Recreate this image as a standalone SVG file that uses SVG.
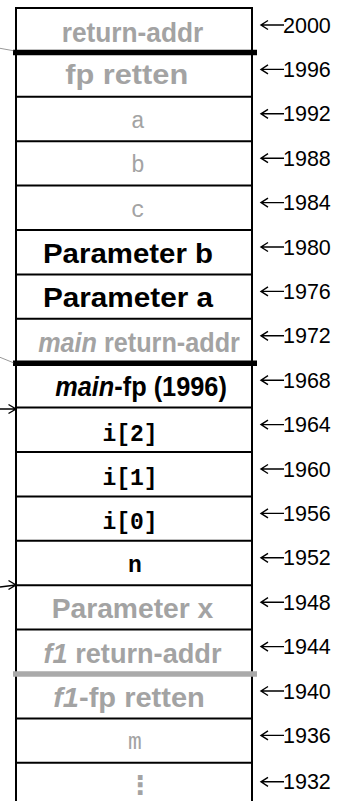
<svg xmlns="http://www.w3.org/2000/svg" width="341" height="801" viewBox="0 0 341 801">
  <style>
    .lbl { font-family: "Liberation Sans", Arial, sans-serif; font-weight: bold; font-size: 28px; text-anchor: middle; fill: #000; }
    .mono { font-family: "Liberation Mono", "Courier New", monospace; font-size: 23px; text-anchor: middle; fill: #000; }
    .bold { font-weight: bold; }
    .dim { fill: #a3a3a3; }
    .it { font-style: italic; }
    .addr { font-family: "Liberation Sans", Arial, sans-serif; font-size: 21.5px; fill: #000; }
    .rule { stroke: #000; stroke-width: 2; }
    .frame-bar { stroke: #000; stroke-width: 5.5; }
    .frame-bar-dim { stroke: #aaa; stroke-width: 5.5; }
    .ptr { fill: none; stroke: #000; stroke-width: 1.4; }
    .lead { fill: none; stroke: #999; stroke-width: 1; }
  </style>
  <defs>
    <!-- small "left arrow" used in front of every address -->
    <g id="addr-arrow">
      <path class="ptr" d="M261,17 H284 M268,12.5 L261,17 L268,21.5"/>
    </g>
  </defs>

  <rect width="341" height="801" fill="#fff"/>

  <!-- stack frame: outer lines -->
  <g id="frame">
    <line class="rule" x1="16" y1="8" x2="16" y2="801"/>
    <line class="rule" x1="252" y1="8" x2="252" y2="801"/>
    <line class="rule" x1="15" y1="8" x2="253" y2="8"/>
    <line class="rule" x1="16" y1="96.8" x2="252" y2="96.8"/>
    <line class="rule" x1="16" y1="141.2" x2="252" y2="141.2"/>
    <line class="rule" x1="16" y1="185.6" x2="252" y2="185.6"/>
    <line class="rule" x1="16" y1="230" x2="252" y2="230"/>
    <line class="rule" x1="16" y1="274.4" x2="252" y2="274.4"/>
    <line class="rule" x1="16" y1="318.8" x2="252" y2="318.8"/>
    <line class="rule" x1="16" y1="407.6" x2="252" y2="407.6"/>
    <line class="rule" x1="16" y1="452" x2="252" y2="452"/>
    <line class="rule" x1="16" y1="496.4" x2="252" y2="496.4"/>
    <line class="rule" x1="16" y1="540.8" x2="252" y2="540.8"/>
    <line class="rule" x1="16" y1="585.2" x2="252" y2="585.2"/>
    <line class="rule" x1="16" y1="629.6" x2="252" y2="629.6"/>
    <line class="rule" x1="16" y1="718.4" x2="252" y2="718.4"/>
    <line class="rule" x1="16" y1="762.8" x2="252" y2="762.8"/>
    <!-- frame boundaries -->
    <line class="frame-bar" x1="13" y1="52.4" x2="257" y2="52.4"/>
    <line class="frame-bar" x1="13" y1="363.2" x2="257" y2="363.2"/>
    <line class="frame-bar-dim" x1="13" y1="674" x2="257" y2="674"/>
  </g>

  <!-- stack cells -->
  <g id="cell-2000" transform="translate(0,8)"><text class="lbl dim" x="132.5" y="33.5" textLength="141.6" lengthAdjust="spacingAndGlyphs">return-addr</text></g>
  <g id="cell-1996" transform="translate(0,52.4)"><text class="lbl dim" x="126.7" y="31.5" textLength="123" lengthAdjust="spacingAndGlyphs">fp retten</text></g>
  <g id="cell-1992" transform="translate(0,96.8)"><text class="mono dim" x="138" y="31">a</text></g>
  <g id="cell-1988" transform="translate(0,141.2)"><text class="mono dim" x="138" y="31">b</text></g>
  <g id="cell-1984" transform="translate(0,185.6)"><text class="mono dim" x="138" y="31">c</text></g>
  <g id="cell-1980" transform="translate(0,230)"><text class="lbl" x="128" y="32.5" textLength="170" lengthAdjust="spacingAndGlyphs">Parameter b</text></g>
  <g id="cell-1976" transform="translate(0,274.4)"><text class="lbl" x="128" y="33" textLength="170" lengthAdjust="spacingAndGlyphs">Parameter a</text></g>
  <g id="cell-1972" transform="translate(0,318.8)"><text class="lbl dim" x="139" y="33" textLength="201.7" lengthAdjust="spacingAndGlyphs"><tspan class="it">main</tspan> return-addr</text></g>
  <g id="cell-1968" transform="translate(0,363.2)"><text class="lbl" x="141" y="33" textLength="171.7" lengthAdjust="spacingAndGlyphs"><tspan class="it">main</tspan>-fp (1996)</text></g>
  <g id="cell-1964" transform="translate(0,407.6)"><text class="mono bold" x="130" y="33">i[2]</text></g>
  <g id="cell-1960" transform="translate(0,452)"><text class="mono bold" x="130" y="33">i[1]</text></g>
  <g id="cell-1956" transform="translate(0,496.4)"><text class="mono bold" x="130" y="33">i[0]</text></g>
  <g id="cell-1952" transform="translate(0,540.8)"><text class="mono bold" x="135" y="31">n</text></g>
  <g id="cell-1948" transform="translate(0,585.2)"><text class="lbl dim" x="132.5" y="33" textLength="161.7" lengthAdjust="spacingAndGlyphs">Parameter x</text></g>
  <g id="cell-1944" transform="translate(0,629.6)"><text class="lbl dim" x="132.5" y="33" textLength="178" lengthAdjust="spacingAndGlyphs"><tspan class="it">f1</tspan> return-addr</text></g>
  <g id="cell-1940" transform="translate(0,674)"><text class="lbl dim" x="129" y="33" textLength="151.7" lengthAdjust="spacingAndGlyphs"><tspan class="it">f1</tspan>-fp retten</text></g>
  <g id="cell-1936" transform="translate(0,718.4)"><text class="mono dim" x="135" y="31">m</text></g>
  <g id="cell-1932" transform="translate(0,762.8)"><text class="lbl dim" style="font-family:'DejaVu Sans',sans-serif;font-size:26px" x="140" y="31">⋮</text></g>

  <!-- addresses -->
  <g id="addresses">
    <g transform="translate(0,8)"><use href="#addr-arrow"/><text class="addr" x="283" y="24.5">2000</text></g>
    <g transform="translate(0,52.4)"><use href="#addr-arrow"/><text class="addr" x="283" y="24.5">1996</text></g>
    <g transform="translate(0,96.8)"><use href="#addr-arrow"/><text class="addr" x="283" y="24.5">1992</text></g>
    <g transform="translate(0,141.2)"><use href="#addr-arrow"/><text class="addr" x="283" y="24.5">1988</text></g>
    <g transform="translate(0,185.6)"><use href="#addr-arrow"/><text class="addr" x="283" y="24.5">1984</text></g>
    <g transform="translate(0,230)"><use href="#addr-arrow"/><text class="addr" x="283" y="24.5">1980</text></g>
    <g transform="translate(0,274.4)"><use href="#addr-arrow"/><text class="addr" x="283" y="24.5">1976</text></g>
    <g transform="translate(0,318.8)"><use href="#addr-arrow"/><text class="addr" x="283" y="24.5">1972</text></g>
    <g transform="translate(0,363.2)"><use href="#addr-arrow"/><text class="addr" x="283" y="24.5">1968</text></g>
    <g transform="translate(0,407.6)"><use href="#addr-arrow"/><text class="addr" x="283" y="24.5">1964</text></g>
    <g transform="translate(0,452)"><use href="#addr-arrow"/><text class="addr" x="283" y="24.5">1960</text></g>
    <g transform="translate(0,496.4)"><use href="#addr-arrow"/><text class="addr" x="283" y="24.5">1956</text></g>
    <g transform="translate(0,540.8)"><use href="#addr-arrow"/><text class="addr" x="283" y="24.5">1952</text></g>
    <g transform="translate(0,585.2)"><use href="#addr-arrow"/><text class="addr" x="283" y="24.5">1948</text></g>
    <g transform="translate(0,629.6)"><use href="#addr-arrow"/><text class="addr" x="283" y="24.5">1944</text></g>
    <g transform="translate(0,674)"><use href="#addr-arrow"/><text class="addr" x="283" y="24.5">1940</text></g>
    <g transform="translate(0,718.4)"><use href="#addr-arrow"/><text class="addr" x="283" y="24.5">1936</text></g>
    <g transform="translate(0,764.8)"><use href="#addr-arrow"/><text class="addr" x="283" y="24.5">1932</text></g>
  </g>

  <!-- pointers coming in from the left -->
  <g id="connectors">
    <line class="lead" x1="0" y1="48.3" x2="13.3" y2="50.7"/>
    <line class="lead" x1="0" y1="357.3" x2="13.3" y2="362.7"/>
    <path class="ptr" d="M0,409 H16 M8.5,404.5 L16,409 L8.5,413.5"/>
    <path class="ptr" d="M0,587 L16,585 M8.5,580.5 L16,585 L8.5,589.5"/>
  </g>
</svg>
